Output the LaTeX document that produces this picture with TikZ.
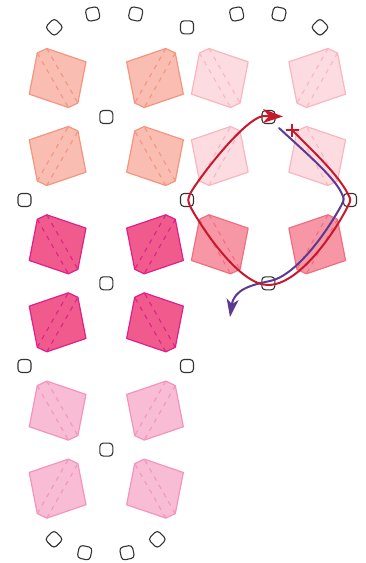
\documentclass[tikz,border=0pt]{standalone}
\usetikzlibrary{arrows.meta}
\definecolor{Afill}{HTML}{F9BDB2}\definecolor{Aline}{HTML}{F4957F}
\definecolor{Bfill}{HTML}{FDDCE1}\definecolor{Bline}{HTML}{FAB5BF}
\definecolor{Cfill}{HTML}{F05A8C}\definecolor{Cline}{HTML}{DE2188}
\definecolor{Dfill}{HTML}{F797A6}\definecolor{Dline}{HTML}{F06E80}
\definecolor{Efill}{HTML}{F8BDD5}\definecolor{Eline}{HTML}{F494BE}
\definecolor{pincol}{HTML}{333333}
\definecolor{strred}{HTML}{C8182C}
\definecolor{strpurple}{HTML}{5C3A92}
\tikzset{
  pinbox/.style={draw=pincol, fill=white, rounded corners=3.5pt, minimum size=13pt, inner sep=0pt, line width=1.1pt},
  tileedge/.style={line width=1.2pt, line join=round},
  tiledash/.style={line width=1.1pt, dash pattern=on 4.5pt off 5pt},
  redline/.style={draw=strred, line width=2pt, line cap=round},
  purpleline/.style={draw=strpurple, line width=2pt, line cap=round},
}
\newcommand\mytile[5]{%
  \begin{scope}[shift={(#1,#2)}, xscale=#3, yscale=#4]
    \filldraw[tileedge, fill=#5fill, draw=#5line] (-20.3,-25) -- (-10.8,-29.5) -- (28.35,-16.15) -- (20.3,25) -- (10.8,29.5) -- (-28.35,16.15) -- cycle;
    \draw[tiledash, draw=#5line] (-20.3,-25) -- (10.8,29.5) (-10.8,-29.5) -- (20.3,25);
  \end{scope}}
\newcommand\topblock[3]{%
  \mytile{#1-48.7}{#2-39}{1}{1}{#3}
  \mytile{#1+48.7}{#2-39}{-1}{1}{#3}}
\newcommand\botblock[3]{%
  \mytile{#1-48.7}{#2+39}{1}{-1}{#3}
  \mytile{#1+48.7}{#2+39}{-1}{-1}{#3}}
\begin{document}
\begin{tikzpicture}[x=1pt, y=-1pt]
\useasboundingbox (0,0) rectangle (366,563);
% tiles
\topblock{106.3}{117}{A}\botblock{106.3}{117}{A}
\topblock{106.3}{283.3}{C}\botblock{106.3}{283.3}{C}
\topblock{106.3}{449.6}{E}\botblock{106.3}{449.6}{E}
\topblock{268.5}{117}{B}\botblock{268.5}{117}{B}
\topblock{268.5}{283.3}{D}
% pins
\node[pinbox, rotate=45] (t1) at (54.3,27.3) {};
\node[pinbox, rotate=12] (t2) at (92.7,14) {};
\node[pinbox, rotate=-12] (t3) at (135.7,14) {};
\node[pinbox] (t4) at (187,27.3) {};
\node[pinbox, rotate=12] (t5) at (236.7,14) {};
\node[pinbox, rotate=-12] (t6) at (279,14) {};
\node[pinbox, rotate=45] (t7) at (320,27.3) {};
\node[pinbox] (m1) at (106.3,117) {};
\node[pinbox] (m2) at (268.5,117) {};
\node[pinbox] (m3) at (24.5,200) {};
\node[pinbox] (m4) at (187,200) {};
\node[pinbox] (m5) at (350,200) {};
\node[pinbox] (m6) at (106.3,283.3) {};
\node[pinbox] (m7) at (268.3,283.3) {};
\node[pinbox] (m8) at (24.5,366) {};
\node[pinbox] (m9) at (187,366) {};
\node[pinbox] (m10) at (106.3,449.6) {};
\node[pinbox, rotate=45] (b1) at (54,539.3) {};
\node[pinbox, rotate=-12] (b2) at (84.7,552.7) {};
\node[pinbox, rotate=12] (b3) at (127,552.7) {};
\node[pinbox, rotate=45] (b4) at (157.3,539.3) {};
% strings
\coordinate (rs) at (292,130);
\coordinate (re) at (283,116.5);
\coordinate (ps) at (279,128);
\coordinate (pe) at (230,317);
\draw[purpleline, -{Stealth[length=18pt, width=12pt, inset=5pt]}] (ps) .. controls (305,152) and (333,176) .. (341,192) .. controls (344.5,199) .. (341,206) .. controls (325,235) and (295,276) .. (270,281) .. controls (250,285) and (234,290) .. (pe);
\draw[redline, -{Stealth[length=20pt, width=14pt, inset=6pt]}] (rs) .. controls (318,156) and (338,175) .. (348,194) .. controls (351,200) .. (348,206) .. controls (336,230) and (300,285) .. (268,285) .. controls (240,285) and (203,230) .. (190.5,207) .. controls (187.5,200) .. (190.5,193) .. controls (199,178) and (243,120) .. (263,116) -- (re);
\draw[redline, line width=2.6pt, line cap=butt] (rs) +(-6.5,0) -- +(6.5,0) (rs) +(0,-6.5) -- +(0,6.5);
\end{tikzpicture}
\end{document}
